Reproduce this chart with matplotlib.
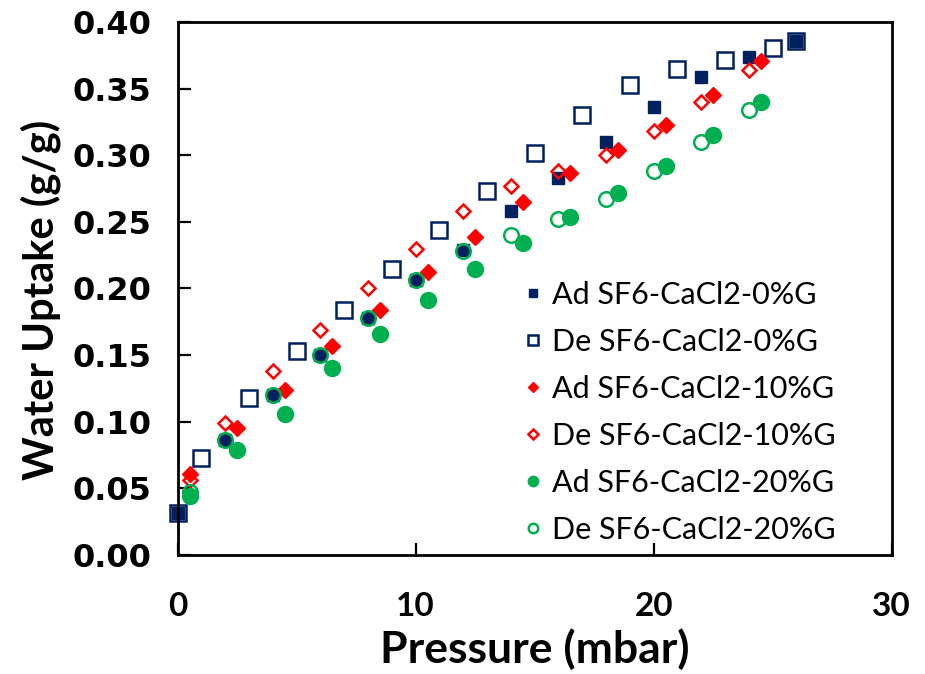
import matplotlib
matplotlib.use("Agg")
import matplotlib.pyplot as plt

# pressure (mbar) and water uptake (g/g)
p_ad0 = [0, 2, 4, 6, 8, 10, 12, 14, 16, 18, 20, 22, 24, 26]
w_ad0 = [0.031, 0.086, 0.120, 0.150, 0.178, 0.206, 0.229, 0.258, 0.283, 0.310, 0.336, 0.359, 0.374, 0.386]

p_de0 = [0, 1, 3, 5, 7, 9, 11, 13, 15, 17, 19, 21, 23, 25, 26]
w_de0 = [0.031, 0.073, 0.118, 0.153, 0.184, 0.215, 0.244, 0.273, 0.302, 0.330, 0.353, 0.365, 0.372, 0.381, 0.386]

p_ad10 = [0.5, 2.5, 4.5, 6.5, 8.5, 10.5, 12.5, 14.5, 16.5, 18.5, 20.5, 22.5, 24.5]
w_ad10 = [0.061, 0.095, 0.124, 0.157, 0.184, 0.212, 0.239, 0.265, 0.287, 0.304, 0.323, 0.345, 0.371]

p_de10 = [0.5, 2, 4, 6, 8, 10, 12, 14, 16, 18, 20, 22, 24]
w_de10 = [0.056, 0.099, 0.138, 0.169, 0.200, 0.230, 0.258, 0.277, 0.288, 0.300, 0.318, 0.340, 0.364]

p_ad20 = [0.5, 2.5, 4.5, 6.5, 8.5, 10.5, 12.5, 14.5, 16.5, 18.5, 20.5, 22.5, 24.5]
w_ad20 = [0.044, 0.079, 0.106, 0.140, 0.166, 0.191, 0.215, 0.234, 0.254, 0.272, 0.292, 0.315, 0.340]

p_de20 = [0.5, 2, 4, 6, 8, 10, 12, 14, 16, 18, 20, 22, 24]
w_de20 = [0.047, 0.086, 0.120, 0.150, 0.178, 0.206, 0.228, 0.240, 0.252, 0.267, 0.288, 0.310, 0.334]

navy = '#002060'
red = '#FF0000'
green = '#00B050'
sans = ['Lato', 'DejaVu Sans']

fig = plt.figure(figsize=(9.25, 6.74), dpi=100)
ax = fig.add_axes([0.192, 0.177, 0.772, 0.790])

ax.plot(p_ad0, w_ad0, 's', color=navy, ms=8.5, mec=navy, clip_on=False, label='Ad SF6-CaCl2-0%G')
ax.plot(p_de0, w_de0, 's', color=navy, ms=11, mfc='none', mew=1.8, clip_on=False, label='De SF6-CaCl2-0%G')
ax.plot(p_ad10, w_ad10, 'D', color=red, ms=8, clip_on=False, label='Ad SF6-CaCl2-10%G')
ax.plot(p_de10, w_de10, 'D', color=red, ms=7.5, mfc='none', mew=1.8, clip_on=False, label='De SF6-CaCl2-10%G')
ax.plot(p_ad20, w_ad20, 'o', color=green, ms=11.5, clip_on=False, label='Ad SF6-CaCl2-20%G')
ax.plot(p_de20, w_de20, 'o', color=green, ms=10.5, mfc='none', mew=1.8, clip_on=False, label='De SF6-CaCl2-20%G')

ax.set_xlim(0, 30)
ax.set_ylim(0, 0.40)
ax.set_xticks([0, 10, 20, 30])
ax.set_yticks([i * 0.05 for i in range(9)])
ax.set_yticklabels(['%.2f' % (i * 0.05) for i in range(9)], fontsize=23, fontweight='bold', family='DejaVu Sans')
ax.set_xticklabels(['0', '10', '20', '30'], fontsize=24, fontweight='bold', family=sans)
ax.tick_params(axis='both', direction='in', length=9, width=1.6)
ax.tick_params(axis='y', pad=19)
ax.tick_params(axis='x', pad=27)
for s in ax.spines.values():
    s.set_linewidth(2)

ax.set_xlabel('Pressure (mbar)', fontsize=32, fontweight='bold', family=sans, labelpad=5)
ax.set_ylabel('Water Uptake (g/g)', fontsize=30, fontweight='bold', family=sans)
ax.yaxis.set_label_coords(-0.163, 0.478)

leg = ax.legend(loc='upper left', bbox_to_anchor=(0.485, 0.514), frameon=False, markerscale=0.65,
                borderpad=0, borderaxespad=0, handlelength=0.6, handletextpad=0.32,
                labelspacing=0.62, prop={'family': sans, 'size': 22})

fig.savefig('out.png', dpi=100)
